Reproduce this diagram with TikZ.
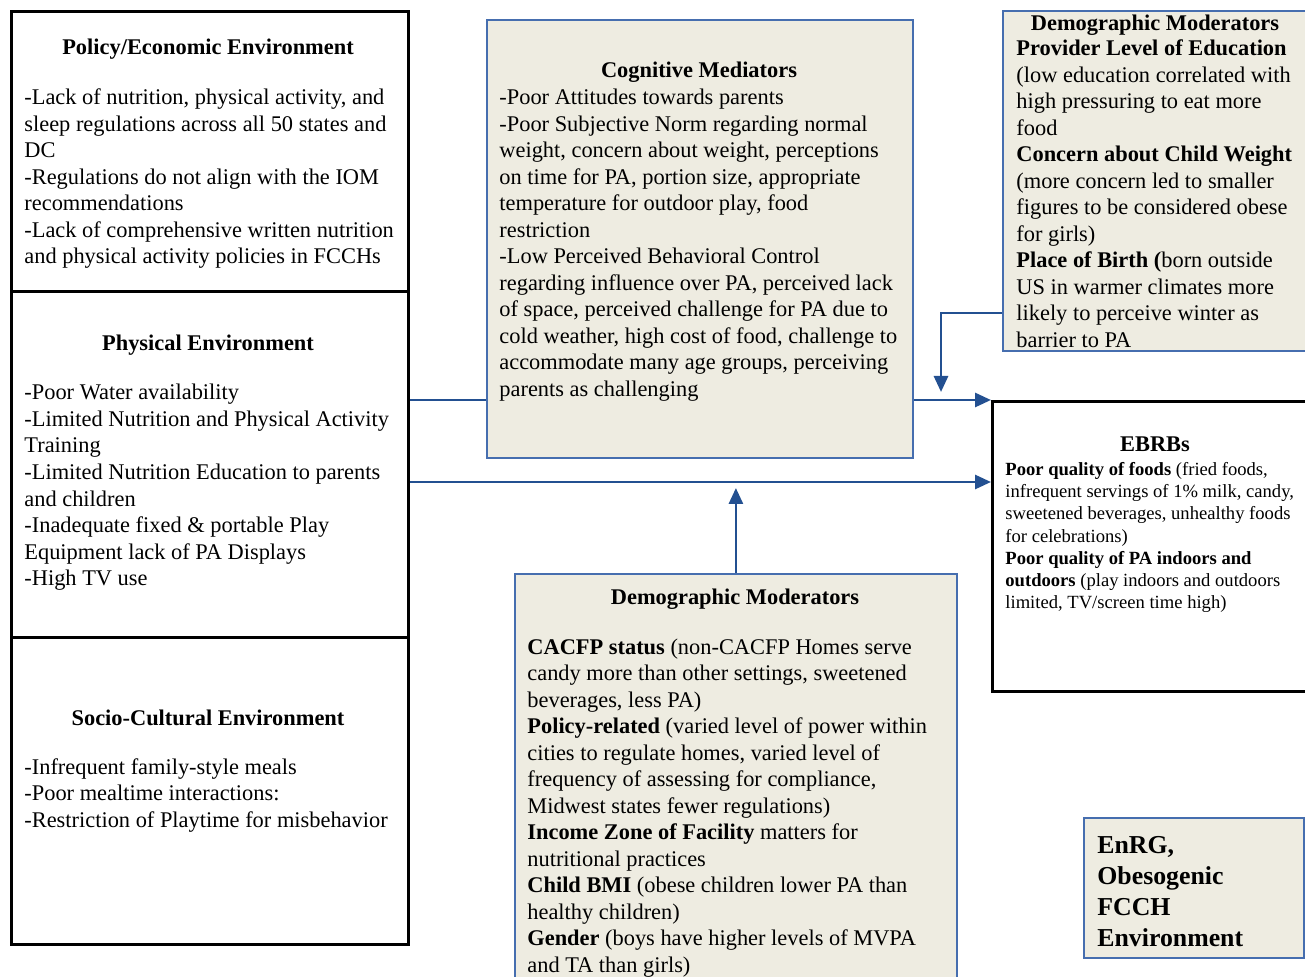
\documentclass[tikz,border=0pt]{standalone}
\usepackage{fontspec}
\setmainfont{Liberation Serif}
\usetikzlibrary{arrows.meta}
\definecolor{boxfill}{RGB}{238,236,225}
\definecolor{boxline}{RGB}{70,110,175}
\definecolor{linkblue}{RGB}{35,80,145}

\begin{document}
\begin{tikzpicture}[x=0.5pt,y=-0.5pt,
  box/.style={draw=boxline, fill=boxfill, line width=0.9pt, rectangle, inner sep=0, anchor=north west},
  blackbox/.style={draw=black, line width=1.7pt, rectangle, inner sep=0, anchor=north west},
  body/.style={inner sep=0, align=left, anchor=base west, font=\fontsize{11.2}{13.25}\selectfont},
  heading/.style={inner sep=0, anchor=base, font=\fontsize{11.2}{13.25}\selectfont\bfseries},
  link/.style={draw=linkblue, line width=1.4pt},
  arrow/.style={link, -{Triangle[length=8pt,width=7pt]}}]
\useasboundingbox (0,0) rectangle (1305,977);
\clip (0,0) rectangle (1305,977);
\fill[white] (0,0) rectangle (1305,977);

% left column (text nodes sit on the baseline of their last line)
\node[blackbox, minimum width=198.5pt, minimum height=140pt] (policy) at (10,10) {};
\node[blackbox, minimum width=198.5pt, minimum height=173pt] (physical) at (10,290) {};
\node[blackbox, minimum width=198.5pt, minimum height=153.5pt] (socio) at (10,636) {};

\node[heading] (policyhead) at (208,55) {Policy/Economic Environment};
\node[body] (policytext) at (24,264) {-Lack of nutrition, physical activity, and\\sleep regulations across all 50 states and\\DC\\-Regulations do not align with the IOM\\recommendations\\-Lack of comprehensive written nutrition\\and physical activity policies in FCCHs};

\node[heading] (physicalhead) at (208,351) {Physical Environment};
\node[body] (physicaltext) at (24,585.5) {-Poor Water availability\\-Limited Nutrition and Physical Activity\\Training\\-Limited Nutrition Education to parents\\and children\\-Inadequate fixed \& portable Play\\Equipment lack of PA Displays\\-High TV use};

\node[heading] (sociohead) at (208,725) {Socio-Cultural Environment};
\node[body] (sociotext) at (24,827) {-Infrequent family-style meals\\-Poor mealtime interactions:\\-Restriction of Playtime for misbehavior};

% mediators and moderators
\node[box, minimum width=213pt, minimum height=219pt] (cog) at (486,19) {};
\node[heading] (coghead) at (699,78) {Cognitive Mediators};
\node[body] (cogtext) at (499,396.5) {-Poor Attitudes towards parents\\-Poor Subjective Norm regarding normal\\weight, concern about weight, perceptions\\on time for PA, portion size, appropriate\\temperature for outdoor play, food\\restriction\\-Low Perceived Behavioral Control\\regarding influence over PA, perceived lack\\of space, perceived challenge for PA due to\\cold weather, high cost of food, challenge to\\accommodate many age groups, perceiving\\parents as challenging};

\node[box, minimum width=154pt, minimum height=170pt] (demotop) at (1002,10) {};
\node[heading] (demotophead) at (1155,31) {Demographic Moderators};
\node[body] (demotoptext) at (1016,347.5) {\textbf{Provider Level of Education}\\(low education correlated with\\high pressuring to eat more\\food\\\textbf{Concern about Child Weight}\\(more concern led to smaller\\figures to be considered obese\\for girls)\\\textbf{Place of Birth (}born outside\\US in warmer climates more\\likely to perceive winter as\\barrier to PA};

\node[blackbox, fill=white, minimum width=160pt, minimum height=145pt] (ebrb) at (991,400) {};
\node[heading] (ebrbhead) at (1155,452) {EBRBs};
\node[body, font=\fontsize{9.3}{11.15}\selectfont] (ebrbtext) at (1005,609) {\textbf{Poor quality of foods} (fried foods,\\infrequent servings of 1\% milk, candy,\\sweetened beverages, unhealthy foods\\for celebrations)\\\textbf{Poor quality of PA indoors and}\\\textbf{outdoors} (play indoors and outdoors\\limited, TV/screen time high)};

\node[box, minimum width=221pt, minimum height=206pt] (demobot) at (514,573) {};
\node[heading] (demobothead) at (735,604) {Demographic Moderators};
\node[body] (demobottext) at (527,972) {\textbf{CACFP status} (non-CACFP Homes serve\\candy more than other settings, sweetened\\beverages, less PA)\\\textbf{Policy-related} (varied level of power within\\cities to regulate homes, varied level of\\frequency of assessing for compliance,\\Midwest states fewer regulations)\\\textbf{Income Zone of Facility} matters for\\nutritional practices\\\textbf{Child BMI} (obese children lower PA than\\healthy children)\\\textbf{Gender} (boys have higher levels of MVPA\\and TA than girls)};

\node[box, minimum width=110pt, minimum height=70pt] (enrg) at (1083,817) {};
\node[body, font=\fontsize{12.9}{15.5}\selectfont\bfseries] (enrgtext) at (1097,946) {EnRG,\\Obesogenic\\FCCH\\Environment};

% connectors
\coordinate (upper) at (0,400);
\coordinate (lower) at (0,482);
\coordinate (birth) at (0,313);
\coordinate (drop) at (941,392);
\coordinate (meet) at (0,488);
\draw[link] (physical.east |- upper) -- (cog.west |- upper);
\draw[arrow] (cog.east |- upper) -- (ebrb.west |- upper);
\draw[arrow] (demotop.west |- birth) -| (drop);
\draw[arrow] (physical.east |- lower) -- (ebrb.west |- lower);
\draw[arrow] (demobot.north) -- (demobot.north |- meet);
\end{tikzpicture}
\end{document}
